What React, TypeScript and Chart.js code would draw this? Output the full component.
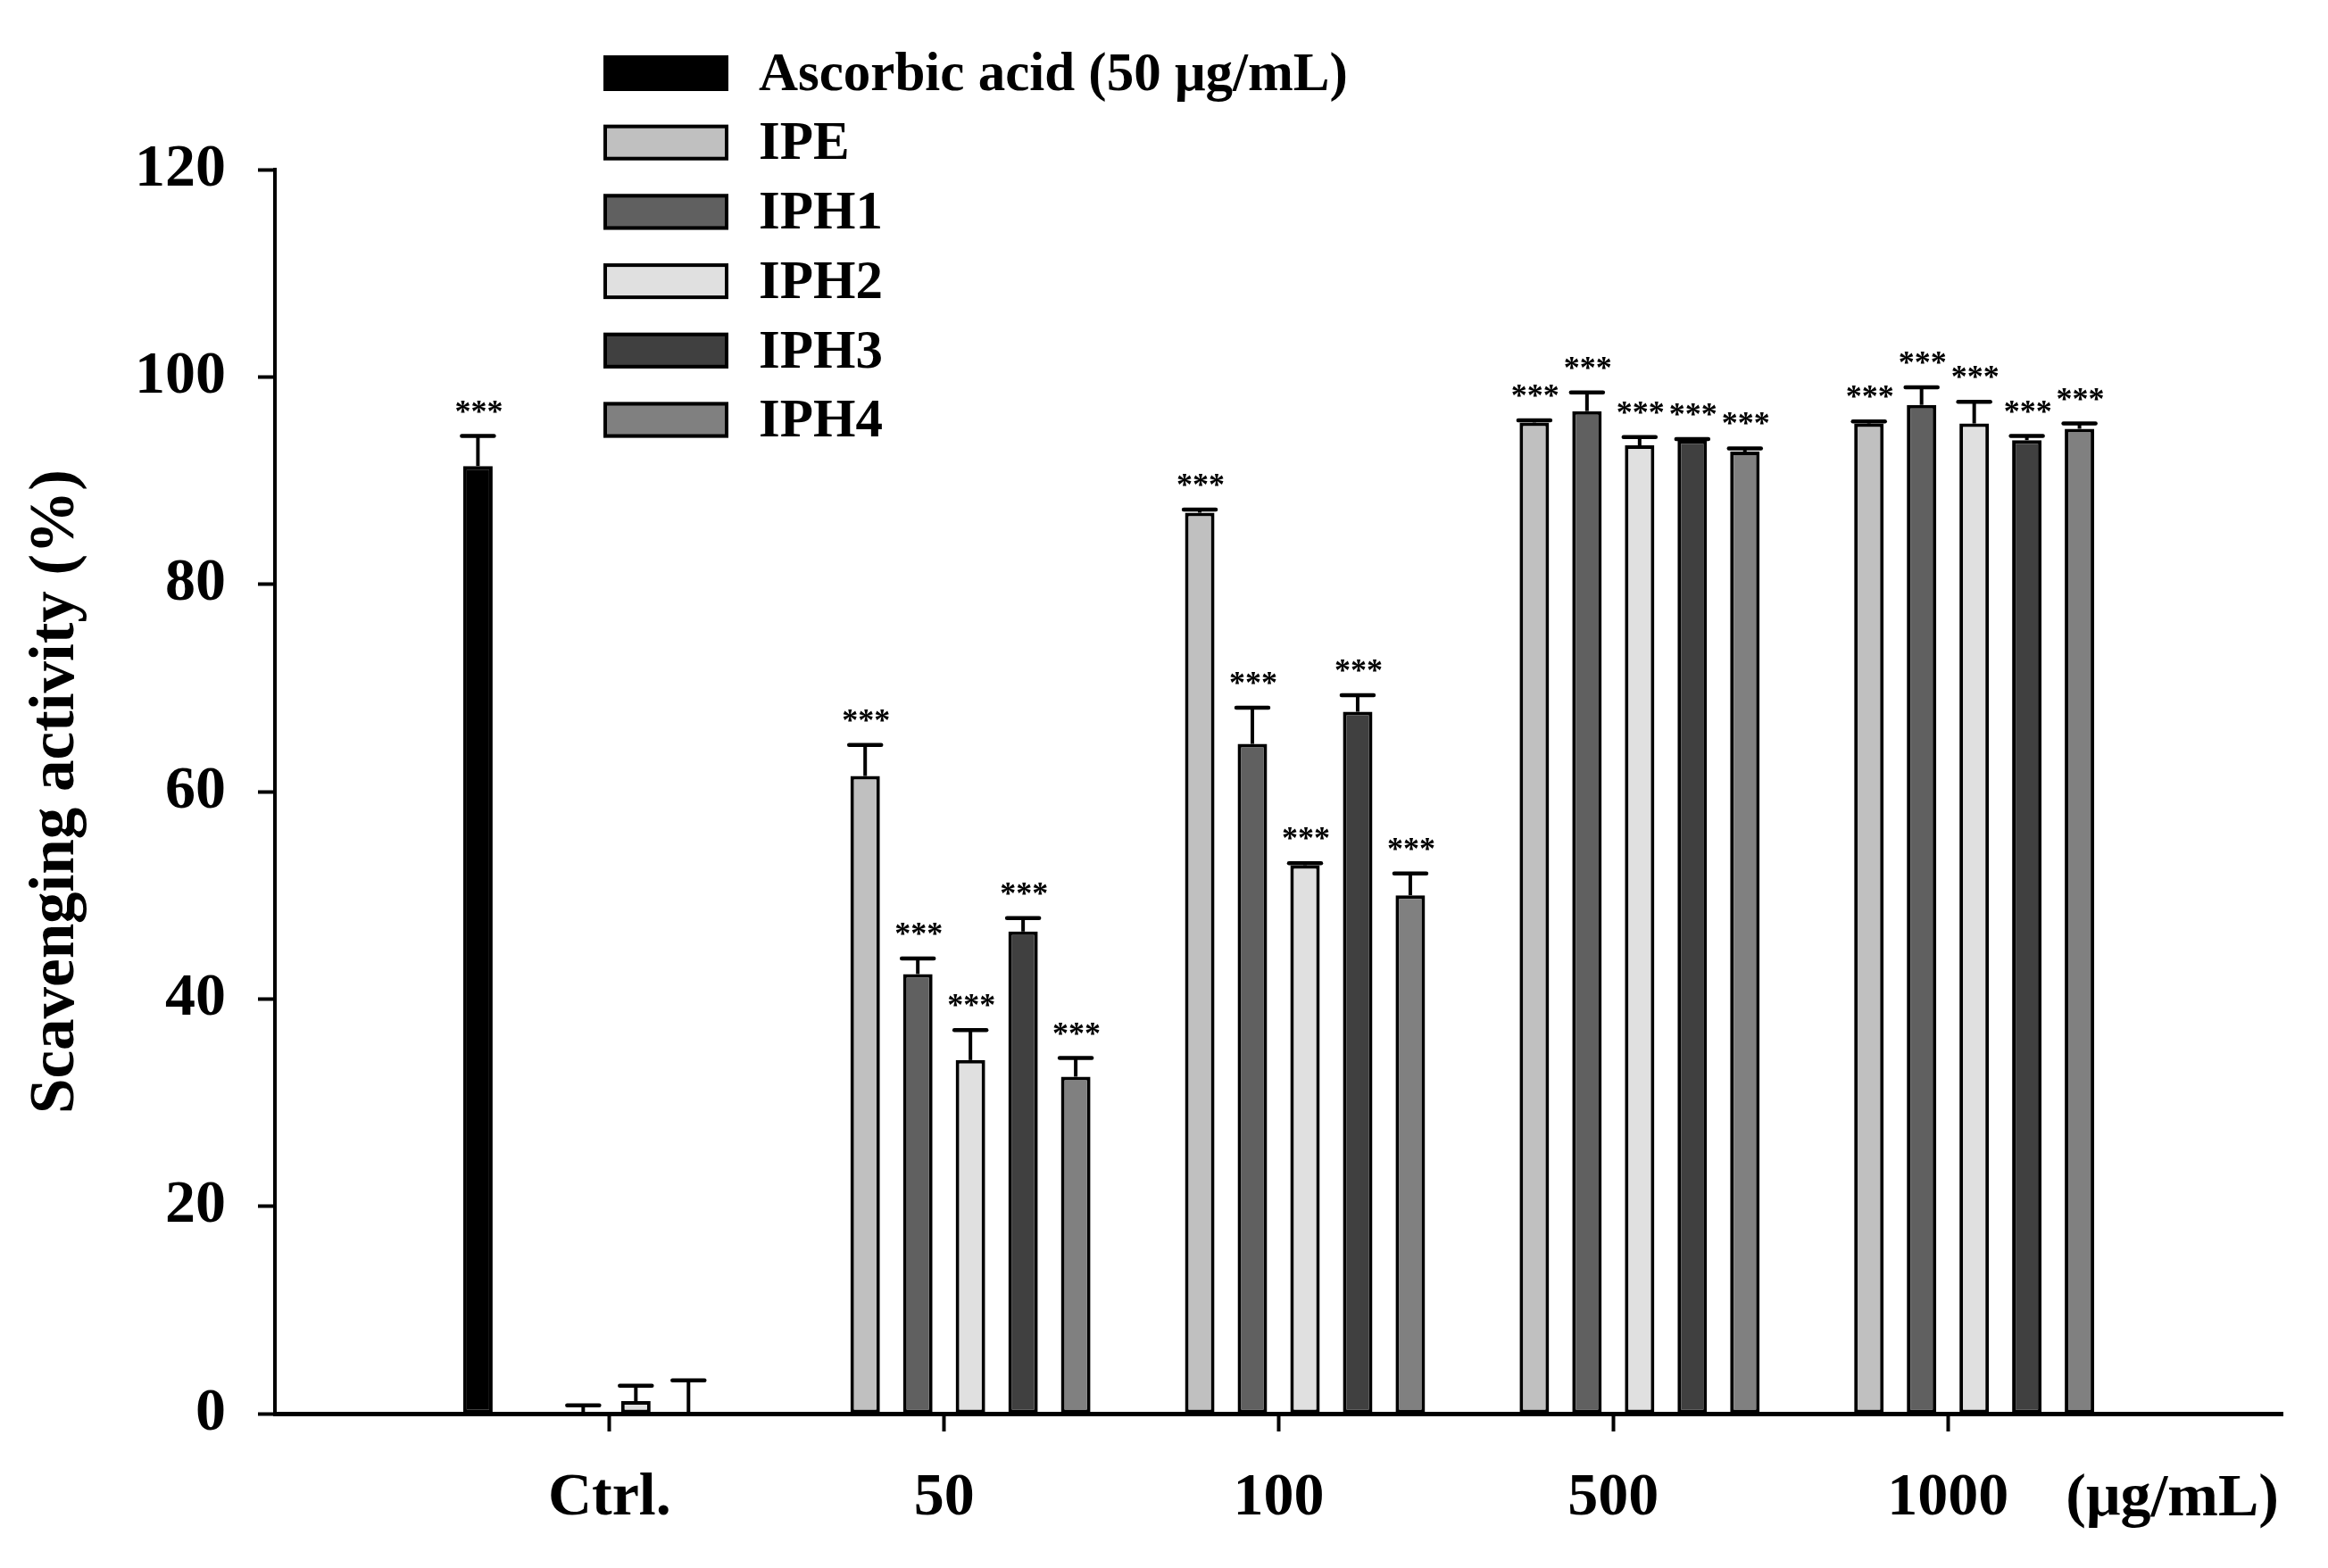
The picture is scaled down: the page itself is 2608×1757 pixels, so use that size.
import React, { useEffect, useRef } from 'react';
import { Chart, registerables } from 'chart.js';

Chart.register(...registerables);

// ---------- data ----------
const categories = ['', 'Ctrl.', '50', '100', '500', '1000', ''];
const seriesLabels = ['Ascorbic acid (50 μg/mL)', 'IPE', 'IPH1', 'IPH2', 'IPH3', 'IPH4'];
const seriesColors = ['#000000', '#c0c0c0', '#606060', '#e0e0e0', '#404040', '#808080'];

const ascorbicValues = [null, 91.4, null, null, null, null, null];
const ascorbicErrors = [null, 2.9, null, null, null, null, null];
const ascorbicSig = ['', '***', '', '', '', '', ''];

const ipeValues = [null, null, 61.5, 86.9, 95.6, 95.5, null];
const ipeErrors = [null, null, 3.0, 0.3, 0.2, 0.2, null];
const ipeSig = ['', '', '***', '***', '***', '***', ''];

const iph1Values = [null, 0, 42.4, 64.6, 96.7, 97.3, null];
const iph1Errors = [null, 0.8, 1.5, 3.5, 1.8, 1.7, null];
const iph1Sig = ['', '', '***', '***', '***', '***', ''];

const iph2Values = [null, 1.2, 34.1, 52.9, 93.4, 95.5, null];
const iph2Errors = [null, 1.5, 2.9, 0.2, 0.8, 2.1, null];
const iph2Sig = ['', '', '***', '***', '***', '***', ''];

const iph3Values = [null, 0, 46.5, 67.7, 93.9, 93.9, null];
const iph3Errors = [null, 3.2, 1.3, 1.6, 0.1, 0.4, null];
const iph3Sig = ['', '', '***', '***', '***', '***', ''];

const iph4Values = [null, null, 32.5, 50.0, 92.8, 95.0, null];
const iph4Errors = [null, null, 1.8, 2.1, 0.3, 0.5, null];
const iph4Sig = ['', '', '***', '***', '***', '***', ''];

const seriesValues = [ascorbicValues, ipeValues, iph1Values, iph2Values, iph3Values, iph4Values];
const seriesErrors = [ascorbicErrors, ipeErrors, iph1Errors, iph2Errors, iph3Errors, iph4Errors];
const seriesSig = [ascorbicSig, ipeSig, iph1Sig, iph2Sig, iph3Sig, iph4Sig];

const yMin = 0;
const yMax = 120;
const yStep = 20;
const yTitle = 'Scavenging activity (%)';
const unitLabel = '(μg/mL)';

// ---------- styling ----------
const FONT = "'Liberation Serif', 'Times New Roman', serif";
const W = 2608;
const H = 1757;

const errorBarPlugin = {
  id: 'errorBars',
  afterDatasetsDraw(chart: any) {
    const { ctx } = chart;
    const yScale = chart.scales.y;
    ctx.save();
    chart.data.datasets.forEach((ds: any, di: number) => {
      const meta = chart.getDatasetMeta(di);
      const errs = seriesErrors[di];
      const sig = seriesSig[di];
      meta.data.forEach((bar: any, i: number) => {
        const v = ds.data[i];
        if (v === null || v === undefined) return;
        const e = errs[i];
        const x = bar.x;
        const yTop = yScale.getPixelForValue(v);
        let yErr = yTop;
        if (e !== null && e !== undefined) {
          yErr = yScale.getPixelForValue(v + e);
          ctx.strokeStyle = '#000';
          ctx.lineWidth = 4;
          ctx.lineCap = 'butt';
          ctx.beginPath();
          ctx.moveTo(x, yTop);
          ctx.lineTo(x, yErr);
          ctx.stroke();
          ctx.lineWidth = 4.5;
          ctx.lineCap = 'round';
          ctx.beginPath();
          ctx.moveTo(x - 18, yErr);
          ctx.lineTo(x + 18, yErr);
          ctx.stroke();
        }
        if (sig[i]) {
          ctx.fillStyle = '#000';
          ctx.font = `bold 36px ${FONT}`;
          ctx.textAlign = 'center';
          ctx.textBaseline = 'alphabetic';
          ctx.fillText(sig[i], x + 1, yErr - 16);
        }
      });
    });
    ctx.restore();
  },
};

const legendPlugin = {
  id: 'customLegend',
  afterDraw(chart: any) {
    const { ctx } = chart;
    ctx.save();
    const boxX = 676;
    const boxW = 140;
    const boxH = 40;
    const firstY = 82;
    const rowGap = 77.7;
    chart.data.datasets.forEach((ds: any, i: number) => {
      const yc = firstY + i * rowGap;
      ctx.fillStyle = ds.backgroundColor;
      ctx.fillRect(boxX, yc - boxH / 2, boxW, boxH);
      ctx.strokeStyle = '#000';
      ctx.lineWidth = 4;
      ctx.strokeRect(boxX + 2, yc - boxH / 2 + 2, boxW - 4, boxH - 4);
      ctx.fillStyle = '#000';
      ctx.font = `bold 61px ${FONT}`;
      ctx.textAlign = 'left';
      ctx.textBaseline = 'middle';
      ctx.fillText(ds.label, 850, yc + 3);
    });
    // unit label on x axis
    const area = chart.chartArea;
    ctx.font = `bold 68px ${FONT}`;
    ctx.textAlign = 'right';
    ctx.textBaseline = 'middle';
    ctx.fillText(unitLabel, area.right - 4, area.bottom + 96);
    ctx.restore();
  },
};

export default function App() {
  const canvasRef = useRef<HTMLCanvasElement | null>(null);

  useEffect(() => {
    document.body.style.margin = '0';
    document.body.style.overflow = 'hidden';
    const canvas = canvasRef.current;
    if (!canvas) return;
    const chart = new Chart(canvas, {
      type: 'bar',
      data: {
        labels: categories,
        datasets: seriesLabels.map((label, i) => ({
          label,
          data: seriesValues[i],
          backgroundColor: seriesColors[i],
          borderColor: '#000000',
          borderWidth: 4,
          borderSkipped: false,
          categoryPercentage: 0.944,
          barPercentage: 0.56,
        })),
      },
      options: {
        responsive: false,
        animation: false,
        devicePixelRatio: 1,
        events: [],
        layout: { padding: { top: 190, right: 51, left: 0, bottom: 0 } },
        plugins: {
          legend: { display: false },
          tooltip: { enabled: false },
          title: { display: false },
        },
        scales: {
          x: {
            type: 'category',
            offset: false,
            grid: {
              offset: false,
              drawOnChartArea: false,
              drawTicks: true,
              tickLength: 20,
              tickWidth: 4,
              tickColor: (c: any) =>
                c.index === 0 || c.index === categories.length - 1 ? 'rgba(0,0,0,0)' : '#000',
              color: 'rgba(0,0,0,0)',
            },
            border: { display: true, color: '#000', width: 5 },
            ticks: {
              color: '#000',
              font: { family: FONT, size: 68, weight: 'bold' },
              padding: 35,
              autoSkip: false,
              maxRotation: 0,
              minRotation: 0,
            },
            afterFit: (s: any) => {
              s.height = H - 1584;
            },
          },
          y: {
            min: yMin,
            max: yMax,
            grid: {
              drawOnChartArea: false,
              drawTicks: true,
              tickLength: 19,
              tickWidth: 4,
              tickColor: '#000',
              color: '#000',
            },
            border: { display: true, color: '#000', width: 4 },
            ticks: {
              stepSize: yStep,
              color: '#000',
              font: { family: FONT, size: 68, weight: 'bold' },
              padding: 36,
            },
            title: {
              display: true,
              text: yTitle,
              color: '#000',
              font: { family: FONT, size: 71, weight: 'bold' },
              padding: { top: 21, bottom: 0 },
            },
            afterFit: (s: any) => {
              s.width = 308;
            },
          },
        },
      },
      plugins: [errorBarPlugin, legendPlugin],
    } as any);
    return () => {
      chart.destroy();
    };
  }, []);

  return (
    <div style={{ position: 'absolute', left: 0, top: 0, width: W, height: H, background: '#fff' }}>
      <canvas ref={canvasRef} width={W} height={H} style={{ width: W, height: H, display: 'block' }} />
    </div>
  );
}
